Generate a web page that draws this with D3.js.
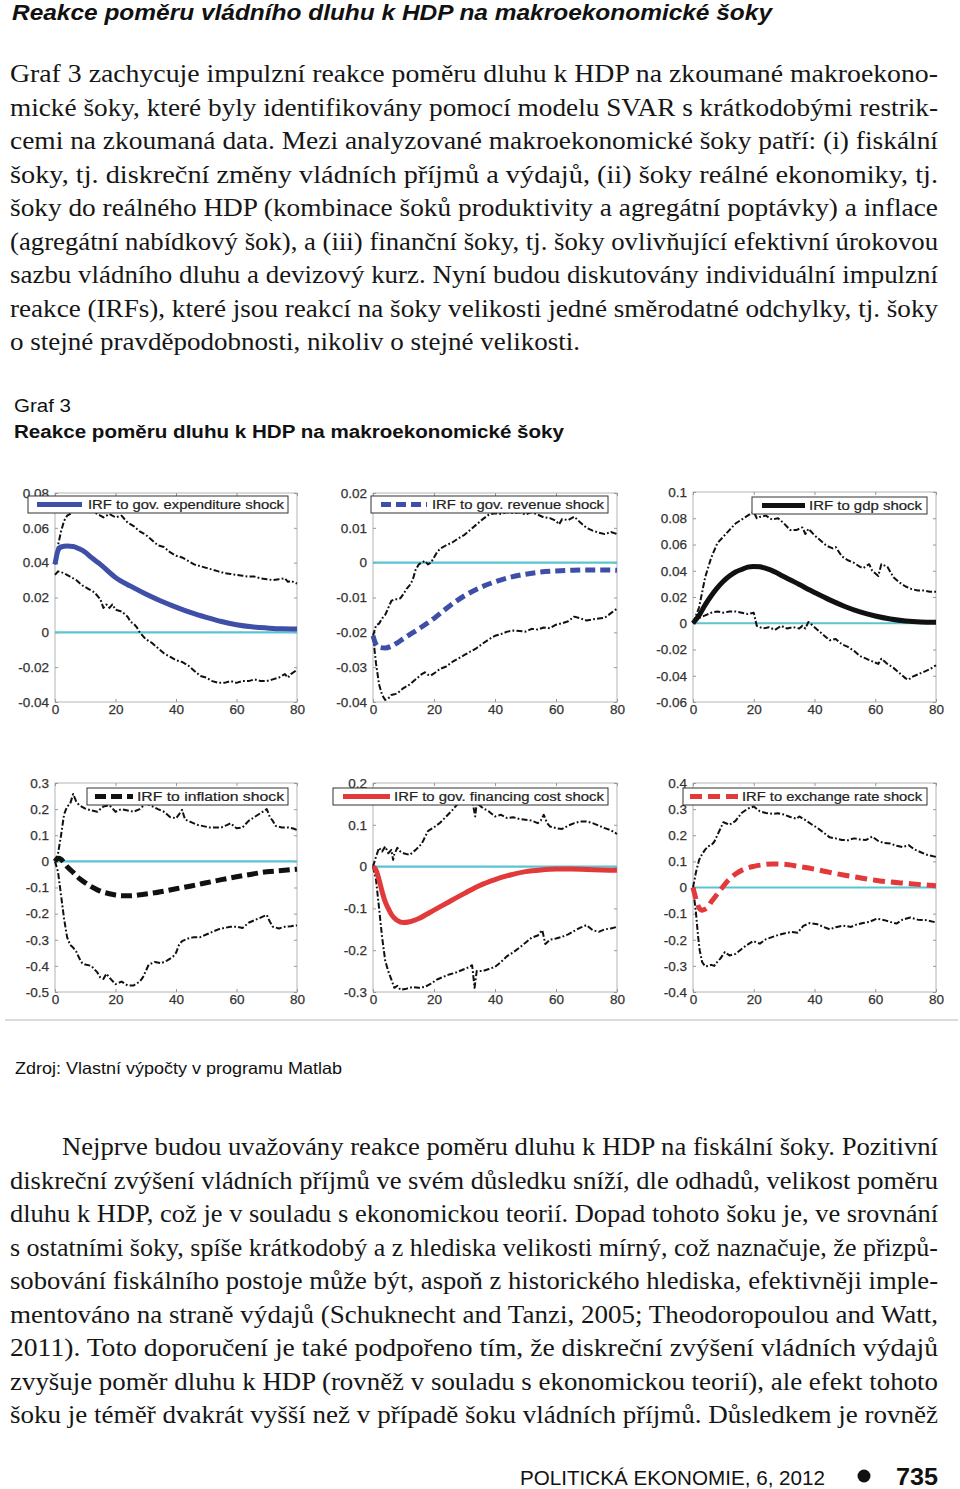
<!DOCTYPE html>
<html><head><meta charset="utf-8">
<script src="https://cdn.jsdelivr.net/npm/d3@7"></script>
<style>body{margin:0;background:#fff}svg{display:block}</style>
</head><body>
<svg id="c" width="960" height="1489"></svg>
<script>
// ---------------- DATA ----------------
const xTicks = [0, 20, 40, 60, 80];

const expTicks = [-0.04, -0.02, 0, 0.02, 0.04, 0.06, 0.08];
const expIrf = [[0,0.039],[1,0.047],[2,0.049],[4,0.0495],[6,0.0493],[8,0.048],[10,0.046],[12,0.043],[15,0.039],[20,0.0315],[25,0.0265],[30,0.022],[35,0.018],[40,0.0145],[45,0.0113],[50,0.0086],[55,0.0062],[60,0.0044],[65,0.0032],[70,0.0025],[75,0.002],[80,0.0019]];
const expUp = [[0,0.039],[1,0.05],[2,0.058],[3,0.064],[4,0.067],[6,0.069],[8,0.07],[10,0.069],[12,0.07],[14,0.068],[16,0.066],[18,0.068],[20,0.066],[22,0.067],[24,0.063],[26,0.061],[28,0.058],[30,0.056],[32,0.053],[34,0.05],[36,0.049],[38,0.046],[40,0.044],[42,0.043],[44,0.041],[46,0.039],[48,0.038],[50,0.037],[52,0.036],[54,0.035],[56,0.034],[58,0.0335],[60,0.033],[62,0.0325],[64,0.032],[66,0.032],[68,0.031],[70,0.0305],[72,0.030],[74,0.0305],[76,0.031],[77,0.029],[78,0.0295],[80,0.028]];
const expLo = [[0,0.033],[1,0.035],[3,0.034],[5,0.032],[7,0.030],[9,0.027],[11,0.025],[13,0.023],[15,0.019],[16,0.014],[17,0.016],[18,0.014],[19,0.016],[20,0.013],[22,0.012],[24,0.009],[25,0.006],[26,0.005],[27,0.003],[28,0.0],[30,-0.004],[32,-0.006],[34,-0.009],[36,-0.012],[38,-0.014],[40,-0.016],[42,-0.017],[44,-0.019],[46,-0.022],[48,-0.025],[50,-0.026],[52,-0.028],[54,-0.029],[56,-0.029],[58,-0.028],[60,-0.029],[62,-0.028],[64,-0.028],[66,-0.027],[68,-0.028],[70,-0.028],[72,-0.027],[74,-0.026],[76,-0.024],[77,-0.026],[78,-0.024],[80,-0.0215]];

const revTicks = [-0.04, -0.03, -0.02, -0.01, 0, 0.01, 0.02];
const revIrf = [[0,-0.021],[1,-0.0235],[2,-0.0243],[4,-0.0245],[6,-0.024],[8,-0.023],[10,-0.0218],[15,-0.019],[20,-0.016],[25,-0.0125],[30,-0.0095],[35,-0.0072],[40,-0.0055],[45,-0.0042],[50,-0.0033],[55,-0.0027],[60,-0.0024],[65,-0.0022],[70,-0.0021],[75,-0.0021],[80,-0.0022]];
const revUp = [[0,-0.021],[1,-0.018],[2,-0.0175],[3,-0.016],[4,-0.015],[5,-0.013],[6,-0.011],[7,-0.0105],[8,-0.0105],[9,-0.0102],[10,-0.009],[11,-0.0075],[12,-0.0065],[13,-0.005],[14,-0.002],[15,-0.0005],[16,0.0],[17,0.0005],[18,-0.0005],[19,0.0],[20,0.0015],[21,0.003],[22,0.004],[24,0.005],[26,0.0058],[28,0.007],[30,0.008],[32,0.0095],[34,0.011],[36,0.0125],[38,0.0138],[40,0.0142],[42,0.014],[44,0.0145],[46,0.0142],[48,0.0145],[50,0.0138],[52,0.0145],[54,0.0138],[56,0.013],[58,0.0128],[60,0.012],[61,0.011],[62,0.0125],[64,0.0122],[66,0.0132],[68,0.0115],[70,0.0100],[72,0.0092],[74,0.0086],[76,0.0082],[78,0.0088],[80,0.0082]];
const revLo = [[0,-0.021],[1,-0.029],[2,-0.035],[3,-0.038],[4,-0.0394],[5,-0.039],[6,-0.038],[7,-0.0378],[8,-0.0375],[10,-0.036],[12,-0.035],[14,-0.0335],[16,-0.032],[17,-0.0315],[18,-0.0322],[19,-0.0324],[20,-0.0318],[22,-0.0305],[24,-0.0298],[26,-0.0285],[28,-0.0275],[30,-0.0265],[32,-0.0255],[34,-0.0245],[36,-0.0232],[38,-0.022],[40,-0.021],[42,-0.0205],[44,-0.0198],[46,-0.0195],[48,-0.0196],[50,-0.0198],[52,-0.019],[54,-0.0192],[56,-0.0186],[58,-0.0188],[60,-0.0178],[62,-0.0174],[64,-0.0168],[66,-0.0155],[68,-0.016],[70,-0.0166],[72,-0.0163],[74,-0.016],[76,-0.0158],[78,-0.0145],[80,-0.0132]];

const gdpTicks = [-0.06, -0.04, -0.02, 0, 0.02, 0.04, 0.06, 0.08, 0.1];
const gdpIrf = [[0,0],[2,0.006],[4,0.014],[6,0.021],[8,0.027],[10,0.032],[12,0.036],[14,0.039],[16,0.041],[18,0.0428],[20,0.0433],[22,0.043],[25,0.041],[30,0.0355],[35,0.0295],[40,0.0235],[45,0.0178],[50,0.0128],[55,0.0086],[60,0.0055],[65,0.0032],[70,0.0017],[75,0.001],[80,0.0008]];
const gdpUp = [[0,0],[2,0.012],[4,0.035],[6,0.05],[8,0.061],[10,0.066],[12,0.071],[14,0.076],[16,0.079],[18,0.082],[20,0.085],[21,0.08],[22,0.081],[24,0.082],[26,0.079],[28,0.08],[30,0.076],[32,0.071],[34,0.071],[36,0.073],[37,0.068],[38,0.072],[40,0.067],[42,0.063],[44,0.059],[46,0.057],[47,0.058],[49,0.051],[51,0.048],[53,0.046],[55,0.043],[56,0.042],[58,0.045],[59,0.04],[61,0.036],[62,0.045],[64,0.043],[66,0.035],[68,0.031],[70,0.028],[72,0.026],[74,0.025],[76,0.025],[78,0.024],[80,0.024]];
const gdpLo = [[0,0],[2,0.004],[4,0.006],[6,0.008],[8,0.009],[10,0.008],[12,0.009],[14,0.009],[16,0.008],[18,0.007],[20,0.008],[21,-0.002],[23,-0.004],[25,-0.003],[27,-0.005],[29,-0.002],[31,-0.004],[33,-0.003],[35,-0.004],[36,-0.002],[37,-0.004],[38,0.001],[40,-0.003],[42,-0.007],[44,-0.011],[45,-0.013],[47,-0.012],[49,-0.016],[51,-0.018],[53,-0.021],[55,-0.025],[57,-0.027],[59,-0.029],[61,-0.031],[62,-0.027],[64,-0.031],[66,-0.034],[68,-0.038],[70,-0.042],[71,-0.043],[72,-0.041],[74,-0.039],[76,-0.037],[78,-0.035],[80,-0.032]];

const infTicks = [-0.5, -0.4, -0.3, -0.2, -0.1, 0, 0.1, 0.2, 0.3];
const infIrf = [[0,0],[1,0.012],[2,0.008],[3,-0.005],[4,-0.02],[6,-0.042],[8,-0.065],[10,-0.082],[12,-0.097],[14,-0.109],[16,-0.118],[18,-0.124],[20,-0.129],[22,-0.132],[25,-0.132],[28,-0.128],[32,-0.122],[36,-0.114],[40,-0.105],[45,-0.094],[50,-0.082],[55,-0.07],[60,-0.059],[65,-0.049],[70,-0.04],[75,-0.035],[80,-0.03]];
const infUp = [[0,0],[1,0.03],[2,0.1],[3,0.18],[4,0.21],[5,0.22],[6,0.258],[7,0.23],[8,0.215],[10,0.202],[12,0.195],[14,0.19],[16,0.21],[18,0.215],[20,0.19],[22,0.2],[24,0.195],[26,0.19],[28,0.2],[30,0.222],[32,0.212],[34,0.2],[36,0.19],[38,0.17],[40,0.165],[41,0.18],[42,0.197],[43,0.16],[45,0.15],[47,0.14],[49,0.135],[51,0.13],[53,0.13],[55,0.13],[57,0.14],[58,0.146],[60,0.127],[62,0.13],[64,0.155],[66,0.17],[68,0.185],[70,0.2],[71,0.17],[72,0.155],[73,0.135],[75,0.13],[77,0.13],[79,0.125],[80,0.12]];
const infLo = [[0,0],[1,-0.04],[2,-0.13],[3,-0.22],[4,-0.29],[5,-0.32],[6,-0.33],[7,-0.345],[8,-0.37],[9,-0.39],[10,-0.395],[12,-0.4],[14,-0.425],[15,-0.445],[16,-0.45],[17,-0.43],[18,-0.445],[20,-0.47],[22,-0.46],[24,-0.475],[26,-0.475],[28,-0.46],[29,-0.445],[31,-0.395],[33,-0.385],[35,-0.39],[37,-0.38],[39,-0.365],[40,-0.35],[41,-0.32],[42,-0.305],[44,-0.295],[46,-0.29],[48,-0.29],[50,-0.28],[52,-0.27],[54,-0.26],[56,-0.255],[58,-0.25],[60,-0.25],[62,-0.255],[64,-0.235],[66,-0.225],[68,-0.215],[70,-0.205],[71,-0.23],[72,-0.25],[74,-0.257],[76,-0.25],[78,-0.248],[80,-0.245]];

const finTicks = [-0.3, -0.2, -0.1, 0, 0.1, 0.2];
const finIrf = [[0,0],[1,-0.008],[2,-0.032],[3,-0.06],[4,-0.084],[5,-0.1],[6,-0.114],[7,-0.123],[8,-0.129],[10,-0.134],[12,-0.132],[15,-0.124],[20,-0.104],[25,-0.084],[30,-0.064],[35,-0.045],[40,-0.031],[45,-0.02],[50,-0.012],[55,-0.008],[60,-0.006],[65,-0.006],[70,-0.007],[75,-0.008],[80,-0.009]];
const finUp = [[0,0],[1,0.024],[2,0.045],[3,0.036],[4,0.048],[5,0.032],[6,0.04],[6.6,0.016],[7,0.03],[8,0.045],[9,0.036],[10,0.032],[12,0.028],[14,0.04],[16,0.055],[18,0.085],[20,0.094],[22,0.105],[24,0.12],[26,0.135],[28,0.152],[30,0.163],[32,0.176],[33,0.14],[33.5,0.12],[34,0.152],[36,0.14],[38,0.132],[40,0.12],[42,0.124],[44,0.116],[46,0.118],[48,0.114],[50,0.112],[52,0.11],[54,0.104],[55,0.11],[56,0.124],[57,0.105],[58,0.096],[60,0.092],[62,0.09],[64,0.098],[66,0.104],[68,0.108],[70,0.108],[72,0.104],[74,0.098],[76,0.092],[78,0.087],[80,0.078]];
const finLo = [[0,0],[1,-0.032],[2,-0.1],[3,-0.17],[4,-0.225],[5,-0.25],[6,-0.27],[7,-0.29],[8,-0.285],[9,-0.295],[11,-0.292],[13,-0.288],[15,-0.29],[17,-0.288],[19,-0.28],[21,-0.27],[23,-0.264],[25,-0.258],[27,-0.254],[29,-0.248],[31,-0.242],[32.5,-0.236],[33.3,-0.29],[34,-0.25],[36,-0.25],[38,-0.245],[40,-0.24],[42,-0.228],[44,-0.214],[46,-0.205],[48,-0.194],[50,-0.182],[52,-0.17],[54,-0.165],[55.5,-0.152],[56.5,-0.185],[58,-0.175],[60,-0.172],[62,-0.168],[64,-0.162],[66,-0.154],[68,-0.146],[70,-0.14],[72,-0.152],[74,-0.156],[76,-0.15],[78,-0.148],[80,-0.144]];

const exTicks = [-0.4, -0.3, -0.2, -0.1, 0, 0.1, 0.2, 0.3, 0.4];
const exIrf = [[0,0],[1,-0.045],[2,-0.078],[3,-0.087],[4,-0.083],[5,-0.074],[6,-0.055],[7,-0.04],[9,-0.01],[11,0.02],[14,0.052],[17,0.071],[20,0.081],[23,0.087],[26,0.09],[30,0.089],[35,0.08],[40,0.07],[45,0.058],[50,0.047],[55,0.037],[60,0.028],[65,0.021],[70,0.016],[75,0.011],[80,0.007]];
const exUp = [[0,0],[1,0.06],[2,0.105],[3,0.128],[4,0.145],[5,0.158],[6,0.162],[7,0.175],[8,0.2],[9,0.225],[10,0.25],[11,0.245],[12,0.24],[14,0.255],[16,0.285],[18,0.302],[20,0.31],[22,0.292],[24,0.285],[26,0.282],[28,0.284],[30,0.279],[32,0.27],[34,0.263],[35,0.272],[37,0.258],[39,0.242],[41,0.228],[43,0.21],[45,0.192],[47,0.188],[49,0.182],[51,0.181],[53,0.188],[55,0.184],[57,0.182],[59,0.195],[61,0.178],[63,0.17],[65,0.168],[67,0.16],[69,0.155],[71,0.162],[73,0.145],[75,0.135],[77,0.125],[80,0.117]];
const exLo = [[0,0],[1,-0.1],[1.7,-0.19],[2.2,-0.24],[3,-0.285],[4,-0.302],[5,-0.3],[6,-0.296],[7,-0.3],[8,-0.285],[9,-0.272],[10.5,-0.247],[12,-0.26],[14,-0.254],[15.5,-0.24],[17.5,-0.222],[19.8,-0.205],[22,-0.215],[24,-0.198],[26,-0.19],[28,-0.182],[30,-0.176],[32.5,-0.17],[34.5,-0.173],[36.3,-0.147],[38.5,-0.136],[41,-0.141],[43,-0.151],[45,-0.16],[47,-0.152],[49.5,-0.146],[52,-0.151],[54,-0.141],[56,-0.136],[58,-0.132],[60.5,-0.119],[63,-0.125],[65,-0.132],[67,-0.138],[69,-0.123],[71.5,-0.115],[74,-0.123],[77,-0.125],[80,-0.134]];

const legendLabels = ["IRF to gov. expenditure shock", "IRF to gov. revenue shock", "IRF to gdp shock",
  "IRF to inflation shock", "IRF to gov. financing cost shock", "IRF to exchange rate shock"];

const pageTitle = "Reakce poměru vládního dluhu k HDP na makroekonomické šoky";
const para1 = [
  "Graf 3 zachycuje impulzní reakce poměru dluhu k HDP na zkoumané makroekono-",
  "mické šoky, které byly identifikovány pomocí modelu SVAR s krátkodobými restrik-",
  "cemi na zkoumaná data. Mezi analyzované makroekonomické šoky patří: (i) fiskální",
  "šoky, tj. diskreční změny vládních příjmů a výdajů, (ii) šoky reálné ekonomiky, tj.",
  "šoky do reálného HDP (kombinace šoků produktivity a agregátní poptávky) a inflace",
  "(agregátní nabídkový šok), a (iii) finanční šoky, tj. šoky ovlivňující efektivní úrokovou",
  "sazbu vládního dluhu a devizový kurz. Nyní budou diskutovány individuální impulzní",
  "reakce (IRFs), které jsou reakcí na šoky velikosti jedné směrodatné odchylky, tj. šoky",
  "o stejné pravděpodobnosti, nikoliv o stejné velikosti."
];
const figLabel = "Graf 3";
const figTitle = "Reakce poměru dluhu k HDP na makroekonomické šoky";
const sourceText = "Zdroj: Vlastní výpočty v programu Matlab";
const para2 = [
  "Nejprve budou uvažovány reakce poměru dluhu k HDP na fiskální šoky. Pozitivní",
  "diskreční zvýšení vládních příjmů ve svém důsledku sníží, dle odhadů, velikost poměru",
  "dluhu k HDP, což je v souladu s ekonomickou teorií. Dopad tohoto šoku je, ve srovnání",
  "s ostatními šoky, spíše krátkodobý a z hlediska velikosti mírný, což naznačuje, že přizpů-",
  "sobování fiskálního postoje může být, aspoň z historického hlediska, efektivněji imple-",
  "mentováno na straně výdajů (Schuknecht and Tanzi, 2005; Theodoropoulou and Watt,",
  "2011). Toto doporučení je také podpořeno tím, že diskreční zvýšení vládních výdajů",
  "zvyšuje poměr dluhu k HDP (rovněž v souladu s ekonomickou teorií), ale efekt tohoto",
  "šoku je téměř dvakrát vyšší než v případě šoku vládních příjmů. Důsledkem je rovněž"
];
const footerText = "POLITICKÁ EKONOMIE, 6, 2012";
const pageNumber = "735";

// ---------------- LAYOUT / STYLE ----------------
const svg = d3.select("#c");
const serif = "'Liberation Serif','Times New Roman',serif";
const sans = "'Liberation Sans',Arial,Helvetica,sans-serif";
const narrow = "'Liberation Sans Narrow','Arial Narrow','Liberation Sans',Arial,sans-serif";
const BLUE = "#3d4fa6", RED = "#e23a3b", BLACK = "#111", CYAN = "#5cc3d3";

function textLine(str, x, y, opts) {
  const t = svg.append("text").attr("x", x).attr("y", y).text(str)
    .attr("font-family", opts.family).attr("font-size", opts.size)
    .attr("fill", opts.fill || "#1a1a1a");
  if (opts.weight) t.attr("font-weight", opts.weight);
  if (opts.style) t.attr("font-style", opts.style);
  if (opts.len) t.attr("textLength", opts.len).attr("lengthAdjust", "spacingAndGlyphs");
  return t;
}

// Title
textLine(pageTitle, 12, 20, {family: sans, size: 22.5, weight: "bold", style: "italic", len: 760, fill: "#111"});

// Paragraph 1
para1.forEach((s, i) => {
  const last = i === para1.length - 1;
  textLine(s, 10, 82 + i * 33.5, {family: serif, size: 26, len: last ? 570 : 928, fill: "#161616"});
});

// Figure caption
textLine(figLabel, 14, 412, {family: sans, size: 18, len: 57, fill: "#111"});
textLine(figTitle, 14, 438, {family: sans, size: 18, weight: "bold", len: 550, fill: "#111"});

// Panels
const panelLayout = [
  {x0: 55, x1: 297, y0: 493, y1: 702, lg: [28, 496, 288, 513], ls: [37, 82], tx: 88, tl: 196},
  {x0: 373, x1: 617, y0: 493, y1: 702, lg: [371, 496, 608, 513], ls: [381, 427], tx: 432, tl: 172},
  {x0: 693, x1: 936, y0: 492, y1: 702, lg: [752, 497, 927, 514], ls: [762, 805], tx: 809, tl: 113},
  {x0: 55, x1: 297, y0: 783, y1: 992, lg: [87, 788, 288, 805], ls: [95, 133], tx: 137, tl: 147},
  {x0: 373, x1: 617, y0: 783, y1: 992, lg: [333, 788, 608, 805], ls: [343, 390], tx: 394, tl: 210},
  {x0: 693, x1: 936, y0: 783, y1: 992, lg: [683, 788, 927, 805], ls: [690, 738], tx: 742, tl: 180}
];
const panels = [
  {irf: expIrf, up: expUp, lo: expLo, ticks: expTicks, color: BLUE, dash: null},
  {irf: revIrf, up: revUp, lo: revLo, ticks: revTicks, color: BLUE, dash: "10,5"},
  {irf: gdpIrf, up: gdpUp, lo: gdpLo, ticks: gdpTicks, color: BLACK, dash: null},
  {irf: infIrf, up: infUp, lo: infLo, ticks: infTicks, color: BLACK, dash: "11,5"},
  {irf: finIrf, up: finUp, lo: finLo, ticks: finTicks, color: RED, dash: null},
  {irf: exIrf, up: exUp, lo: exLo, ticks: exTicks, color: RED, dash: "12,6"}
];

const fmt = d => String(+d.toFixed(3));

panels.forEach((p, i) => {
  const L = panelLayout[i];
  const x = d3.scaleLinear().domain([0, 80]).range([L.x0, L.x1]);
  const y = d3.scaleLinear().domain(d3.extent(p.ticks)).range([L.y1, L.y0]);
  const g = svg.append("g");

  g.append("rect").attr("x", L.x0).attr("y", L.y0)
    .attr("width", L.x1 - L.x0).attr("height", L.y1 - L.y0)
    .attr("fill", "#fff").attr("stroke", "#b4b4b4").attr("stroke-width", 1);

  const styleAxis = (sel, labels) => {
    sel.select(".domain").remove();
    sel.selectAll(".tick line").attr("stroke", "#999");
    sel.selectAll(".tick text").attr("fill", labels ? "#333" : "none")
      .attr("font-family", sans).attr("font-size", 13.5)
      .attr("stroke", labels ? "#333" : "none").attr("stroke-width", 0.25);
  };
  g.append("g").attr("transform", `translate(0,${L.y1})`)
    .call(d3.axisBottom(x).tickValues(xTicks).tickSizeInner(-3).tickSizeOuter(0).tickPadding(2).tickFormat(fmt))
    .call(s => styleAxis(s, true));
  g.append("g").attr("transform", `translate(0,${L.y0})`)
    .call(d3.axisTop(x).tickValues(xTicks).tickSizeInner(-3).tickSizeOuter(0).tickFormat(""))
    .call(s => styleAxis(s, false));
  g.append("g").attr("transform", `translate(${L.x0},0)`)
    .call(d3.axisLeft(y).tickValues(p.ticks).tickSizeInner(-3).tickSizeOuter(0).tickPadding(6).tickFormat(fmt))
    .call(s => styleAxis(s, true));
  g.append("g").attr("transform", `translate(${L.x1},0)`)
    .call(d3.axisRight(y).tickValues(p.ticks).tickSizeInner(-3).tickSizeOuter(0).tickFormat(""))
    .call(s => styleAxis(s, false));

  // zero line
  g.append("path").datum([[0, 0], [80, 0]])
    .attr("d", d3.line().x(d => x(d[0])).y(d => y(d[1])))
    .attr("stroke", CYAN).attr("stroke-width", 2.2).attr("fill", "none");

  // confidence bands
  const bandLine = d3.line().x(d => x(d[0])).y(d => y(d[1])).curve(d3.curveLinear);
  [p.up, p.lo].forEach(b => {
    g.append("path").datum(b).attr("d", bandLine)
      .attr("fill", "none").attr("stroke", "#111").attr("stroke-width", 2)
      .attr("stroke-dasharray", "6,2.2,1.8,2.2").attr("stroke-linejoin", "round");
  });

  // IRF
  const irfLine = d3.line().x(d => x(d[0])).y(d => y(d[1])).curve(d3.curveMonotoneX);
  const ip = g.append("path").datum(p.irf).attr("d", irfLine)
    .attr("fill", "none").attr("stroke", p.color).attr("stroke-width", 5);
  if (p.dash) ip.attr("stroke-dasharray", p.dash);

  // legend
  const [lx0, ly0, lx1, ly1] = L.lg;
  g.append("rect").attr("x", lx0).attr("y", ly0).attr("width", lx1 - lx0).attr("height", ly1 - ly0)
    .attr("fill", "#fff").attr("stroke", "#333").attr("stroke-width", 1);
  const ym = (ly0 + ly1) / 2;
  const lsl = g.append("line").attr("x1", L.ls[0]).attr("x2", L.ls[1]).attr("y1", ym).attr("y2", ym)
    .attr("stroke", p.color).attr("stroke-width", 5);
  if (p.dash) lsl.attr("stroke-dasharray", p.dash);
  g.append("text").attr("x", L.tx).attr("y", ym + 4.5).text(legendLabels[i])
    .attr("font-family", sans).attr("font-size", 12.5).attr("fill", "#222")
    .attr("stroke", "#222").attr("stroke-width", 0.2)
    .attr("textLength", L.tl).attr("lengthAdjust", "spacingAndGlyphs");
});

// Separator and source
svg.append("line").attr("x1", 5).attr("x2", 958).attr("y1", 1020).attr("y2", 1020)
  .attr("stroke", "#d0d0d0").attr("stroke-width", 1.5);
textLine(sourceText, 15, 1074, {family: sans, size: 16.5, len: 327, fill: "#111"});

// Paragraph 2
para2.forEach((s, i) => {
  const first = i === 0;
  textLine(s, first ? 62 : 10, 1155 + i * 33.5, {family: serif, size: 26, len: first ? 876 : 928, fill: "#161616"});
});

// Footer
textLine(footerText, 520, 1485, {family: narrow, size: 21, len: 305, fill: "#111"});
svg.append("circle").attr("cx", 864).attr("cy", 1476).attr("r", 6.5).attr("fill", "#111");
textLine(pageNumber, 896, 1485, {family: narrow, size: 23, weight: "bold", len: 42, fill: "#111"});
</script>
</body></html>
